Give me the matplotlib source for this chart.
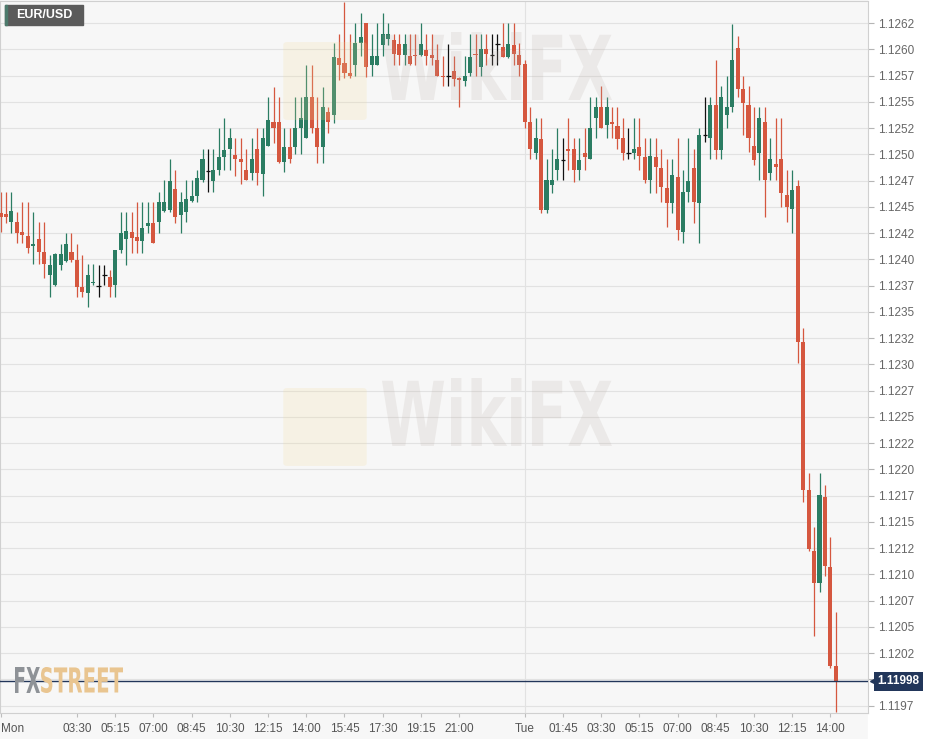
"""EUR/USD 15-minute candles, Monday 00:00 to Tuesday 14:15 (FXStreet style)."""

import math

import matplotlib
import numpy as np

matplotlib.use("Agg")
import matplotlib.pyplot as plt
from matplotlib.font_manager import FontProperties
from matplotlib.patches import FancyBboxPatch, PathPatch, Rectangle
from matplotlib.textpath import TextPath
from matplotlib.transforms import Affine2D, IdentityTransform

# prices in units of 0.00001 (112444 -> 1.12444), one candle per 15 minutes
OPEN_PTS = [
    112444, 112443, 112436, 112436, 112426, 112422, 112413, 112419, 112407, 112385,
    112376, 112395, 112398, 112407, 112399, 112374, 112368, 112377, 112375, 112385,
    112383, 112376, 112409, 112419, 112426, 112421, 112417, 112432, 112435, 112436,
    112446, 112447, 112467, 112442, 112445, 112456, 112460, 112476, 112484, 112475,
    112485, 112497, 112505, 112499, 112496, 112485, 112482, 112505, 112481, 112508,
    112531, 112531, 112493, 112507, 112507, 112525, 112516, 112555, 112525, 112507,
    112540, 112537, 112592, 112587, 112577, 112585, 112606, 112625, 112585, 112585,
    112604, 112610, 112609, 112605, 112595, 112594, 112595, 112595, 112599, 112595,
    112590, 112575, 112575, 112579, 112573, 112570, 112577, 112596, 112583, 112600,
    112595, 112605, 112602, 112593, 112604, 112595, 112586, 112531, 112501, 112515,
    112447, 112471, 112485, 112495, 112505, 112505, 112485, 112501, 112496, 112535,
    112545, 112528, 112531, 112527, 112516, 112501, 112501, 112507, 112497, 112476,
    112497, 112487, 112468, 112454, 112478, 112426, 112464, 112487, 112454, 112518,
    112516, 112547, 112504, 112537, 112545, 112601, 112562, 112547, 112508, 112501,
    112531, 112482, 112491, 112496, 112461, 112448, 112470, 112321, 112180, 112122,
    112092, 112174, 112107, 112013,
]
HIGH_PTS = [
    112464, 112464, 112464, 112445, 112455, 112455, 112445, 112436, 112436, 112404,
    112406, 112415, 112425, 112425, 112415, 112404, 112396, 112396, 112395, 112395,
    112390, 112409, 112445, 112445, 112445, 112455, 112455, 112455, 112455, 112464,
    112476, 112496, 112485, 112464, 112476, 112476, 112485, 112505, 112505, 112505,
    112525, 112535, 112525, 112516, 112516, 112505, 112516, 112525, 112525, 112555,
    112564, 112555, 112525, 112525, 112555, 112555, 112585, 112585, 112555, 112564,
    112545, 112606, 112615, 112645, 112615, 112625, 112635, 112625, 112615, 112625,
    112635, 112625, 112615, 112615, 112615, 112615, 112615, 112625, 112615, 112615,
    112605, 112594, 112605, 112594, 112574, 112594, 112615, 112615, 112615, 112615,
    112615, 112615, 112625, 112625, 112625, 112606, 112590, 112545, 112535, 112535,
    112496, 112505, 112525, 112516, 112535, 112516, 112516, 112525, 112555, 112555,
    112565, 112555, 112545, 112545, 112535, 112525, 112535, 112535, 112516, 112516,
    112516, 112505, 112496, 112496, 112516, 112485, 112516, 112505, 112525, 112555,
    112555, 112590, 112565, 112575, 112624, 112613, 112575, 112565, 112545, 112545,
    112545, 112516, 112535, 112535, 112485, 112485, 112476, 112335, 112197, 112145,
    112197, 112185, 112136, 112064,
]
LOW_PTS = [
    112426, 112435, 112425, 112416, 112416, 112406, 112396, 112396, 112382, 112364,
    112375, 112390, 112397, 112397, 112364, 112364, 112355, 112376, 112364, 112376,
    112364, 112364, 112406, 112395, 112406, 112406, 112406, 112425, 112416, 112425,
    112445, 112445, 112435, 112425, 112436, 112455, 112455, 112474, 112464, 112464,
    112480, 112485, 112485, 112479, 112472, 112476, 112476, 112471, 112460, 112508,
    112511, 112492, 112483, 112492, 112500, 112500, 112516, 112520, 112492, 112492,
    112520, 112530, 112571, 112573, 112573, 112575, 112594, 112574, 112575, 112585,
    112594, 112604, 112585, 112585, 112585, 112585, 112585, 112594, 112585, 112585,
    112575, 112565, 112565, 112565, 112545, 112565, 112575, 112575, 112575, 112585,
    112585, 112585, 112593, 112592, 112585, 112575, 112525, 112496, 112496, 112444,
    112444, 112463, 112476, 112476, 112485, 112474, 112476, 112485, 112496, 112516,
    112525, 112516, 112516, 112505, 112495, 112496, 112496, 112485, 112473, 112463,
    112463, 112455, 112431, 112444, 112418, 112416, 112455, 112435, 112416, 112512,
    112496, 112496, 112496, 112525, 112540, 112555, 112518, 112502, 112490, 112476,
    112440, 112476, 112476, 112450, 112436, 112425, 112301, 112169, 112122, 112041,
    112083, 112098, 112011, 111969,
]
CLOSE_PTS = [
    112440, 112440, 112446, 112425, 112423, 112411, 112415, 112407, 112396, 112395,
    112405, 112405, 112415, 112399, 112374, 112369, 112385, 112378, 112375, 112385,
    112374, 112409, 112425, 112427, 112420, 112417, 112430, 112435, 112416, 112455,
    112455, 112475, 112440, 112455, 112457, 112460, 112477, 112496, 112484, 112485,
    112497, 112504, 112516, 112496, 112493, 112476, 112496, 112482, 112516, 112533,
    112525, 112493, 112507, 112496, 112525, 112535, 112555, 112525, 112507, 112545,
    112531, 112593, 112585, 112577, 112575, 112606, 112612, 112583, 112594, 112594,
    112615, 112615, 112596, 112595, 112605, 112586, 112594, 112605, 112594, 112592,
    112575, 112574, 112575, 112572, 112571, 112575, 112593, 112595, 112600, 112596,
    112595, 112605, 112593, 112605, 112596, 112585, 112531, 112505, 112516, 112447,
    112476, 112476, 112496, 112495, 112503, 112485, 112495, 112497, 112525, 112545,
    112525, 112545, 112529, 112515, 112501, 112501, 112505, 112498, 112476, 112498,
    112488, 112469, 112454, 112480, 112428, 112464, 112475, 112455, 112518, 112518,
    112547, 112504, 112555, 112545, 112590, 112562, 112549, 112516, 112495, 112535,
    112476, 112496, 112488, 112463, 112450, 112466, 112321, 112180, 112124, 112092,
    112176, 112108, 112013, 111998,
]

TICK_CANDLES = [0, 14, 21, 28, 35, 42, 49, 56, 63, 70, 77, 84,
                96, 103, 110, 117, 124, 131, 138, 145, 152]
TICK_LABELS = ["Mon", "03:30", "05:15", "07:00", "08:45", "10:30", "12:15", "14:00",
               "15:45", "17:30", "19:15", "21:00", "Tue", "01:45", "03:30", "05:15",
               "07:00", "08:45", "10:30", "12:15", "14:00"]
DAY_BREAK = 96
SYMBOL = "EUR/USD"

GREEN = "#2b7d63"
RED = "#d5573f"
NAVY = "#22365a"
BG = "#f7f7f7"
W, H = 933, 739


def fit_text(fig, text, box, color, alpha=1.0, weight="bold", family="DejaVu Sans"):
    """Draw text squeezed into a pixel box (x0, y0_top, x1, y1_bottom)."""
    x0, y0, x1, y1 = box
    tp = TextPath((0, 0), text, size=1, prop=FontProperties(family=family, weight=weight))
    ext = tp.get_extents()
    sx = (x1 - x0) / ext.width
    sy = (y1 - y0) / ext.height
    tr = Affine2D().translate(-ext.x0, -ext.y0).scale(sx, sy).translate(x0, H - y1)
    fig.patches.append(PathPatch(tr.transform_path(tp), transform=IdentityTransform(),
                                 fc=color, ec="none", alpha=alpha, zorder=5))


def main():
    o = np.array(OPEN_PTS) / 1e5
    h = np.array(HIGH_PTS) / 1e5
    l = np.array(LOW_PTS) / 1e5
    c = np.array(CLOSE_PTS) / 1e5
    flat = np.array(OPEN_PTS) == np.array(CLOSE_PTS)
    x = np.arange(len(o))
    colors = np.where(c > o, GREEN, np.where(c < o, RED, "#111111"))

    fig = plt.figure(figsize=(W / 100, H / 100), dpi=100, facecolor=BG)
    ax = fig.add_axes([0, 26 / H, 868 / W, 712 / H])
    ax.set_facecolor(BG)
    fig.patches.append(Rectangle((868 / W, 0), 1 - 868 / W, 1, transform=fig.transFigure,
                                 color="white", zorder=-1))

    ax.vlines(x, l, h, colors=colors, linewidth=0.9, zorder=2)
    ax.bar(x[~flat], np.abs(c - o)[~flat], bottom=np.minimum(o, c)[~flat], width=0.74,
           color=colors[~flat], linewidth=0, zorder=3)
    ax.hlines(o[flat], x[flat] - 0.42, x[flat] + 0.42, colors="#111111", linewidth=0.9, zorder=3)

    ax.set_xlim(-0.5 / 5.46, 867.5 / 5.46)
    ax.set_ylim(1.11968, 1.12646)

    last = c[-1]
    yticks = np.round(np.arange(1.11975, 1.126251, 0.00025), 5)
    ax.set_yticks(yticks)
    # the last-price tag covers the tick label next to it
    ax.set_yticklabels(["" if abs(t - last) < 0.00012 else
                        f"{math.floor(t * 1e4 + 1e-6) / 1e4:.4f}" for t in yticks])
    ax.yaxis.tick_right()
    ax.tick_params(axis="y", length=4, width=0.8, color="#b5b5b5", labelcolor="#666666",
                   labelsize=8.5, pad=3)
    ax.set_xticks(TICK_CANDLES)
    ax.set_xticklabels(TICK_LABELS)
    ax.get_xticklabels()[0].set_horizontalalignment("left")
    ax.tick_params(axis="x", length=3, width=0.8, color="#bdbdbd", labelcolor="#555555",
                   labelsize=8.5, pad=4)
    for label in ax.get_xticklabels() + ax.get_yticklabels():
        label.set_family("Liberation Sans")

    ax.grid(axis="y", color="#e2e2e2", linewidth=0.8)
    ax.axvline(DAY_BREAK, color="#e2e2e2", linewidth=0.8, zorder=0)
    ax.set_axisbelow(True)
    for spine in ax.spines.values():
        spine.set_color("#d0d0d0")
        spine.set_linewidth(0.8)

    # last price line and tag
    ax.axhline(last, color=NAVY, linewidth=1, zorder=4)
    trans = ax.get_yaxis_transform()
    ax.plot([1.006], [last], marker="<", markersize=5, color=NAVY, transform=trans,
            clip_on=False)
    ax.text(1.011, last, f"{last:.5f}", transform=trans, ha="left", va="center",
            color="white", fontsize=8.5, fontweight="bold", family="Liberation Sans",
            bbox=dict(boxstyle="square,pad=0.3", fc=NAVY, ec="none"), clip_on=False)

    # symbol tag
    fig.patches.append(Rectangle((5 / W, 1 - 25 / H), 78 / W, 20 / H, transform=fig.transFigure,
                                 color="#5b5b5b", zorder=5))
    fig.patches.append(Rectangle((5 / W, 1 - 25 / H), 2 / W, 20 / H, transform=fig.transFigure,
                                 color="#4d7a6c", zorder=6))
    fig.text(16 / W, 1 - 15 / H, SYMBOL, color="white", fontsize=9, fontweight="bold",
             family="Liberation Sans", ha="left", va="center", zorder=7)

    # FXStreet logo
    fit_text(fig, "FX", (15, 667, 40, 693), "#8e9297")
    fit_text(fig, "STREET", (41, 667, 123, 693), "#e9c590")

    # WikiFX watermarks
    for top in (22, 368):
        fig.patches.append(FancyBboxPatch((287 / W, 1 - (top + 95) / H), 76 / W, 72 / H,
                                          boxstyle="round,pad=0.004", transform=fig.transFigure,
                                          fc="#f3dc9a", ec="none", alpha=0.2, zorder=6))
        fit_text(fig, "WikiFX", (382, top + 10, 612, top + 78), "#b8aca4", alpha=0.18)

    fig.savefig("out.png", dpi=100, facecolor=BG)


if __name__ == "__main__":
    main()
